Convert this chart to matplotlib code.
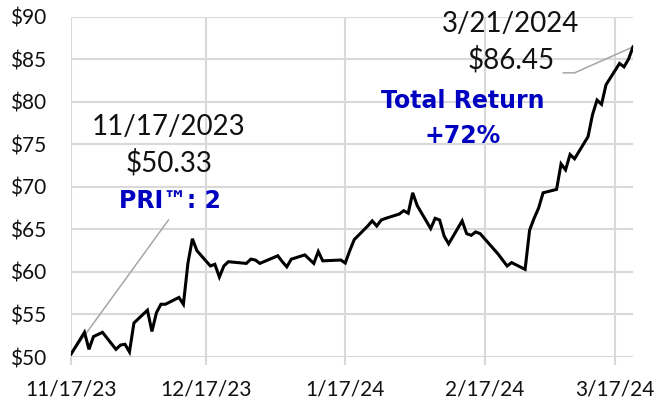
import matplotlib
matplotlib.use('Agg')
import matplotlib.pyplot as plt
import pandas as pd

# ---- data ----
dates = [
    '2023-11-17', '2023-11-20', '2023-11-21', '2023-11-22', '2023-11-24',
    '2023-11-27', '2023-11-28', '2023-11-29', '2023-11-30', '2023-12-01',
    '2023-12-04', '2023-12-05', '2023-12-06', '2023-12-07', '2023-12-08',
    '2023-12-11', '2023-12-12', '2023-12-13', '2023-12-14', '2023-12-15',
    '2023-12-18', '2023-12-19', '2023-12-20', '2023-12-21', '2023-12-22',
    '2023-12-26', '2023-12-27', '2023-12-28', '2023-12-29',
    '2024-01-02', '2024-01-03', '2024-01-04', '2024-01-05',
    '2024-01-08', '2024-01-09', '2024-01-10', '2024-01-11', '2024-01-12',
    '2024-01-16', '2024-01-17', '2024-01-18', '2024-01-19',
    '2024-01-22', '2024-01-23', '2024-01-24', '2024-01-25', '2024-01-26',
    '2024-01-29', '2024-01-30', '2024-01-31', '2024-02-01', '2024-02-02',
    '2024-02-05', '2024-02-06', '2024-02-07', '2024-02-08', '2024-02-09',
    '2024-02-12', '2024-02-13', '2024-02-14', '2024-02-15', '2024-02-16',
    '2024-02-20', '2024-02-21', '2024-02-22', '2024-02-23',
    '2024-02-26', '2024-02-27', '2024-02-28', '2024-02-29', '2024-03-01',
    '2024-03-04', '2024-03-05', '2024-03-06', '2024-03-07', '2024-03-08',
    '2024-03-11', '2024-03-12', '2024-03-13', '2024-03-14', '2024-03-15',
    '2024-03-18', '2024-03-19', '2024-03-20', '2024-03-21',
]
prices = [
    50.33, 52.9, 50.9, 52.4, 52.9,
    50.9, 51.4, 51.5, 50.6, 54.0,
    55.5, 53.0, 55.2, 56.2, 56.2,
    57.0, 56.2, 61.0, 63.9, 62.5,
    60.7, 60.9, 59.4, 60.7, 61.2,
    61.0, 61.5, 61.4, 61.0,
    61.9, 61.2, 60.6, 61.5,
    62.0, 61.5, 61.0, 62.4, 61.3,
    61.4, 61.05, 62.5, 63.8,
    65.4, 66.0, 65.4, 66.1, 66.3,
    66.8, 67.2, 66.9, 69.3, 67.8,
    65.1, 66.3, 66.1, 64.2, 63.3,
    66.0, 64.5, 64.3, 64.7, 64.5,
    62.1, 61.4, 60.7, 61.1,
    60.3, 64.9, 66.3, 67.5, 69.3,
    69.7, 72.7, 72.0, 73.8, 73.3,
    75.9, 78.5, 80.2, 79.7, 82.0,
    84.5, 84.1, 85.0, 86.45,
]
x_tick_dates = ['2023-11-17', '2023-12-17', '2024-01-17', '2024-02-17', '2024-03-17']
x_tick_labels = ['11/17/23', '12/17/23', '1/17/24', '2/17/24', '3/17/24']
y_ticks = [50, 55, 60, 65, 70, 75, 80, 85, 90]
y_tick_labels = ['$50', '$55', '$60', '$65', '$70', '$75', '$80', '$85', '$90']

start_label = ['11/17/2023', '$50.33', 'PRI\u2122: 2']
end_label = ['3/21/2024', '$86.45', 'Total Return', '+72%']

# ---- plot ----
W, H = 656, 408
fig = plt.figure(figsize=(W / 100, H / 100), dpi=100)
L, R, T, B = 71, 633, 16.7, 357
ax = fig.add_axes([L / W, 1 - B / H, (R - L) / W, (B - T) / H])

d = pd.to_datetime(dates)
ax.plot(d, prices, color='black', lw=2.2, solid_joinstyle='miter', zorder=3)

ax.set_xlim(pd.Timestamp('2023-11-17'), pd.Timestamp('2024-03-21'))
ax.set_ylim(50, 90)
ax.set_xticks(pd.to_datetime(x_tick_dates))
ax.set_xticklabels(x_tick_labels)
ax.set_yticks(y_ticks)
ax.set_yticklabels(y_tick_labels)

grid_c = '#D9D9D9'
ax.grid(True, color=grid_c, lw=1.5, zorder=0)
for s in ax.spines.values():
    s.set_visible(False)
ax.tick_params(axis='x', length=6, width=1.5, color=grid_c, pad=10,
               labelsize=15, labelcolor='#111111')
ax.tick_params(axis='y', length=0, pad=18, labelsize=15, labelcolor='#111111')
for lab in ax.get_xticklabels() + ax.get_yticklabels():
    lab.set_fontfamily('Lato')

# leader lines
lead_c = '#A6A6A6'
ax.plot([d[0], pd.Timestamp('2023-12-08 16:00')], [prices[0], 66.1],
        color=lead_c, lw=1.1, clip_on=False, zorder=2)
ax.plot([d[-1], pd.Timestamp('2024-03-08'), pd.Timestamp('2024-03-05 12:00')],
        [prices[-1], 83.4, 83.4], color=lead_c, lw=1.1, clip_on=False, zorder=2)

blue = '#0000C0'
def ftext(x, y, s, **kw):
    fig.text(x / W, 1 - y / H, s, ha='center', va='baseline', **kw)

ftext(169, 135, start_label[0], fontsize=20, family='Lato', color='#111111')
ftext(169, 171, start_label[1], fontsize=20, family='Lato', color='#111111')
ftext(170, 208, start_label[2], fontsize=17, family='DejaVu Sans', weight='bold', color=blue)
ftext(511, 32, end_label[0], fontsize=20, family='Lato', color='#111111')
ftext(511, 68, end_label[1], fontsize=20, family='Lato', color='#111111')
ftext(463, 108, end_label[2], fontsize=17, family='DejaVu Sans', weight='bold', color=blue)
ftext(463, 143, end_label[3], fontsize=17, family='DejaVu Sans', weight='bold', color=blue)

fig.savefig('out.png', dpi=100)
